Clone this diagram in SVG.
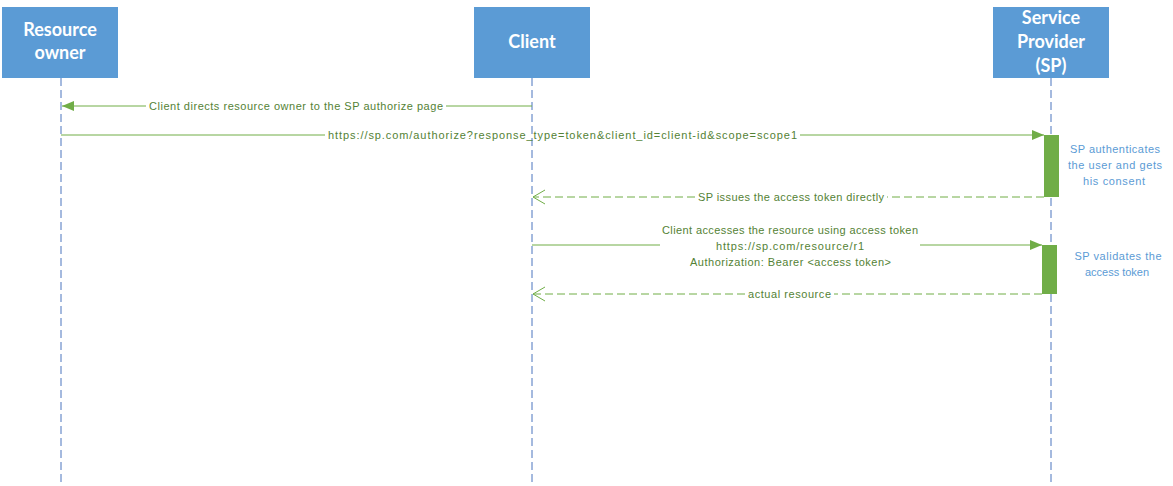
<svg xmlns="http://www.w3.org/2000/svg" width="1173" height="486" viewBox="0 0 1173 486">
<defs>
<style>
.box{fill:#5B9BD5;}
.btxt{font-family:Lato,"Liberation Sans",sans-serif;font-weight:bold;font-size:18px;fill:#FFFFFF;text-anchor:middle;}
.life{stroke:#4A75BE;stroke-width:1;stroke-dasharray:8,4;fill:none;}
.msg{stroke:#70AD47;stroke-width:1;fill:none;}
.ret{stroke:#70AD47;stroke-width:1;fill:none;stroke-dasharray:8,4;}
.lbl{font-family:"Liberation Sans",Arial,sans-serif;font-size:11px;fill:#548235;text-anchor:middle;}
.note{font-family:"Liberation Sans",Arial,sans-serif;font-size:11px;fill:#5B9BD5;text-anchor:middle;}
.act{fill:#70AD47;}
</style>
<marker id="filled" viewBox="0 0 12 10" refX="12" refY="5" markerWidth="12" markerHeight="10" markerUnits="userSpaceOnUse" orient="auto">
<path d="M0,0 L12,5 L0,10 Z" fill="#70AD47"/>
</marker>
<marker id="open" viewBox="0 0 13 16" refX="12" refY="8" markerWidth="13" markerHeight="16" markerUnits="userSpaceOnUse" orient="auto">
<path d="M0,1 L12,8 L0,15" fill="none" stroke="#70AD47" stroke-width="1"/>
</marker>
</defs>
<rect width="1173" height="486" fill="#FFFFFF"/>

<g id="resource-owner">
<rect class="box" x="2" y="7" width="116" height="71"/>
<text class="btxt" x="60" y="36">Resource</text>
<text class="btxt" x="60" y="59">owner</text>
<line class="life" x1="61" y1="78" x2="61" y2="486"/>
</g>

<g id="client">
<rect class="box" x="474" y="7" width="116" height="71"/>
<text class="btxt" x="532" y="48">Client</text>
<line class="life" x1="532" y1="78" x2="532" y2="486"/>
</g>

<g id="service-provider">
<rect class="box" x="993" y="7" width="116" height="71"/>
<text class="btxt" x="1051" y="24">Service</text>
<text class="btxt" x="1051" y="48">Provider</text>
<text class="btxt" x="1051" y="72">(SP)</text>
<line class="life" x1="1051" y1="78" x2="1051" y2="486"/>
</g>

<g id="activation-1">
<rect class="act" x="1044" y="135" width="15" height="62"/>
<text class="note" x="1115" y="153" textLength="90">SP authenticates</text>
<text class="note" x="1115" y="169" textLength="94">the user and gets</text>
<text class="note" x="1114" y="185" textLength="62">his consent</text>
</g>

<g id="activation-2">
<rect class="act" x="1042" y="245" width="15" height="49"/>
<text class="note" x="1118" y="260" textLength="87">SP validates the</text>
<text class="note" x="1117" y="276">access token</text>
</g>

<g id="connectors">
<path class="msg" d="M532,106 H446 M146,106 H62" marker-end="url(#filled)"/>
<text class="lbl" x="296" y="110" textLength="294">Client directs resource owner to the SP authorize page</text>

<path class="msg" d="M61,135 H325 M800,135 H1044" marker-end="url(#filled)"/>
<text class="lbl" x="562.5" y="139" textLength="469">https://sp.com/authorize?response_type=token&amp;client_id=client-id&amp;scope=scope1</text>

<path class="ret" d="M1044,197 H887 M695,197 H533" marker-end="url(#open)"/>
<text class="lbl" x="791" y="201" textLength="186">SP issues the access token directly</text>

<path class="msg" d="M532,245 H660 M920,245 H1042" marker-end="url(#filled)"/>
<text class="lbl" x="790" y="234" textLength="256">Client accesses the resource using access token</text>
<text class="lbl" x="790" y="250" textLength="148">https://sp.com/resource/r1</text>
<text class="lbl" x="790.5" y="266" textLength="201">Authorization: Bearer &lt;access token&gt;</text>

<path class="ret" d="M1042,294 H834 M745,294 H533" marker-end="url(#open)"/>
<text class="lbl" x="789.5" y="298" textLength="83">actual resource</text>
</g>
</svg>
